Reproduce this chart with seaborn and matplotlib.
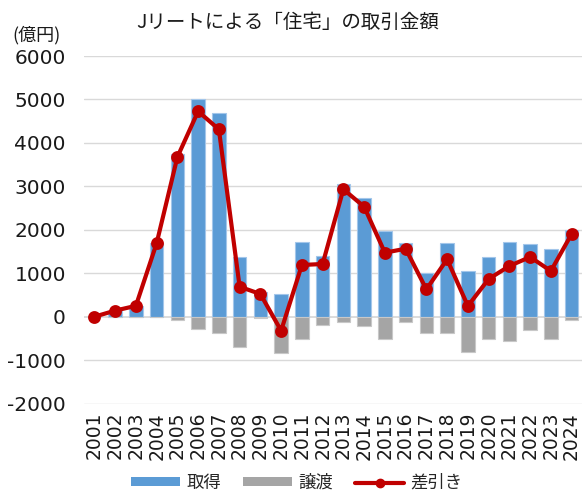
import matplotlib
matplotlib.use("Agg")
import matplotlib.pyplot as plt
from matplotlib.patches import Patch
from matplotlib.lines import Line2D
import seaborn as sns
import pandas as pd

years = [str(y) for y in range(2001, 2025)]
acquisition = [0, 140, 253, 1689, 3752, 5018, 4696, 1381, 561, 522, 1719, 1397,
               3047, 2732, 1972, 1689, 998, 1689, 1059, 1374, 1719, 1673, 1551, 2002]
disposal = [0, 0, 0, 0, -76, -290, -383, -690, -38, -843, -521, -191,
            -114, -214, -513, -122, -368, -368, -820, -521, -552, -306, -513, -84]
net = [0, 140, 250, 1690, 3675, 4727, 4312, 690, 522, -322, 1190, 1213,
       2932, 2532, 1473, 1565, 630, 1321, 246, 867, 1167, 1374, 1052, 1903]
yticks = [-2000, -1000, 0, 1000, 2000, 3000, 4000, 5000, 6000]

title = "Jリートによる「住宅」の取引金額"
unit = "(億円)"
legend_labels = ["取得", "譲渡", "差引き"]

BLUE = "#5B9BD5"
GRAY = "#A5A5A5"
RED = "#C00000"
TXT = "#1a1a1a"

df = pd.DataFrame({"year": years, "acq": acquisition, "disp": disposal, "net": net})

sns.set_theme(style="white")
plt.rcParams["font.family"] = ["Noto Sans CJK JP", "DejaVu Sans"]

fig = plt.figure(figsize=(5.82, 4.93), dpi=100)
ax = fig.add_axes([84 / 582, 1 - 403.6 / 493, 498 / 582, (403.6 - 56) / 493])

for yv in yticks:
    ax.axhline(yv, color="#D9D9D9", lw=1.3 if yv == 0 else 1.0, zorder=0)

sns.barplot(data=df, x="year", y="acq", color=BLUE, width=0.65, ax=ax,
            edgecolor="#A3C6EA", linewidth=0.8, saturation=1, zorder=2)
sns.barplot(data=df, x="year", y="disp", color=GRAY, width=0.65, ax=ax,
            edgecolor="#C8C8C8", linewidth=0.8, saturation=1, zorder=2)
sns.pointplot(data=df, x="year", y="net", color=RED, ax=ax, markers="o",
              markersize=7, linewidth=3.0, zorder=3)

ax.set_xlim(-0.5, len(years) - 0.5)
ax.set_ylim(-2000, 6000)
ax.set_yticks(yticks)
ax.set_yticklabels([str(v) for v in yticks], fontsize=14.5, color=TXT, family="DejaVu Sans")
ax.set_xticks(range(len(years)))
ax.set_xticklabels(years, rotation=90, fontsize=13.5, color=TXT, family="DejaVu Sans")
ax.tick_params(axis="both", length=0)
ax.tick_params(axis="x", pad=6)
ax.tick_params(axis="y", pad=13)
ax.set_xlabel("")
ax.set_ylabel("")
for s in ax.spines.values():
    s.set_visible(False)

fig.text(0.495, 1 - 22 / 493, title, ha="center", va="center", fontsize=14, color=TXT)
fig.text(12 / 582, 1 - 35 / 493, unit, ha="left", va="center", fontsize=13, color=TXT)

handles = [
    Patch(facecolor=BLUE, edgecolor="none"),
    Patch(facecolor=GRAY, edgecolor="none"),
    Line2D([0], [0], color=RED, lw=3, marker="o", markersize=6),
]
fig.legend(handles, legend_labels, loc="center", bbox_to_anchor=(0.51, 1 - 483 / 493),
           ncol=3, frameon=False, fontsize=12.5, handlelength=2.8, handleheight=0.45,
           columnspacing=1.3, handletextpad=0.35)

fig.savefig("out.png", dpi=100)
